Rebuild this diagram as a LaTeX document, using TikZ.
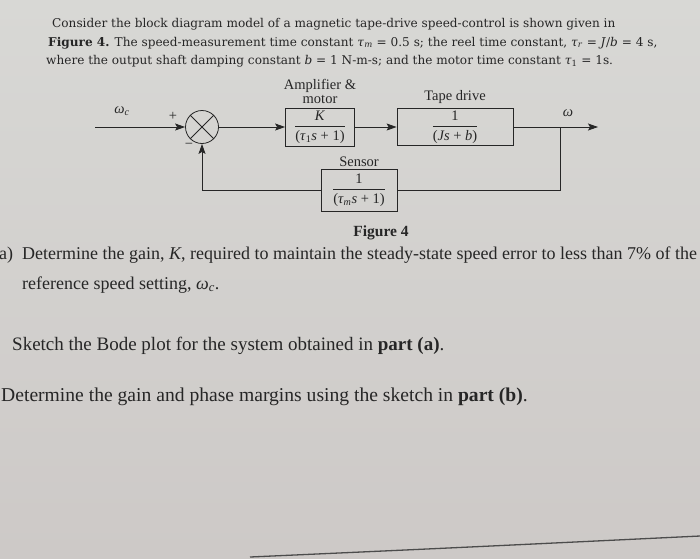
\documentclass[tikz,border=0pt]{standalone}
\usepackage{amsmath}
\usepackage{fontspec}
\setmainfont{Liberation Serif}
\newfontfamily\headfont{DejaVu Serif}
\usetikzlibrary{arrows, arrows.meta}
\usetikzlibrary{positioning}
\definecolor{paper}{RGB}{205,201,199}
\definecolor{paperlight}{RGB}{216,216,213}
\definecolor{ink}{RGB}{38,38,38}
\newcommand{\vsub}[2]{\textit{#1}\textsubscript{\textit{#2}}}
\newcommand{\blockfrac}[2]{$\dfrac{\mbox{#1}}{\mbox{#2}}$}

\begin{document}
\begin{tikzpicture}[x=1pt, y=-1pt, >={Stealth[length=10pt, width=7pt, inset=2pt]}, color=ink,
	block/.style={draw, thick, inner sep=1pt, font=\fontsize{14.5}{17}\selectfont},
	sumnode/.style={draw, thick, circle, minimum size=33pt, inner sep=0pt},
	lbl/.style={font=\fontsize{14.5}{13.5}\selectfont, inner sep=1pt},
	headline/.style={anchor=base west, inner sep=0pt, font=\headfont\fontsize{12.1}{14}\selectfont},
	question/.style={anchor=base west, inner sep=0pt}]
				% Draw the page
				\shade[top color=paperlight, bottom color=paper] (0,0) rectangle (700,558);
				\useasboundingbox (0,0) rectangle (700,558);
				\draw[gray!60!black, line width=1.3pt] (250,557) .. controls (450,548) .. (700,536);
				
				% Draw the problem statement
				\node[headline] (intro1) at (52,27) {Consider the block diagram model of a magnetic tape-drive speed-control is shown given in};
				\node[headline] (intro2) at (48,46) {\textbf{Figure 4.} The speed-measurement time constant \vsub{τ}{m} = 0.5 s; the reel time constant, \vsub{τ}{r} = \textit{J}/\textit{b} = 4 s,};
				\node[headline] (intro3) at (46,64) {where the output shaft damping constant \textit{b} = 1 N-m-s; and the motor time constant \textit{τ}\textsubscript{1} = 1s.};
				
				% Draw the blocks
				\node[sumnode] (sum) at (202,127) {};
				\draw[thick] (sum.north east) -- (sum.south west) (sum.north west) -- (sum.south east);
				\node[block, minimum width=69pt, minimum height=38pt] (amp) at (320,127) {\blockfrac{\textit{K}}{(\textit{τ}\textsubscript{1}\textit{s} + 1)}};
				\node[block, minimum width=116pt, minimum height=37pt] (tape) at (455,127) {\blockfrac{1}{(\textit{Js} + \textit{b})}};
				\node[block, minimum width=76pt, minimum height=42pt] (sensor) at (359,190) {\blockfrac{1}{(\vsub{τ}{m}\textit{s} + 1)}};
				
				% Draw the labels
				\node[lbl, align=center, above=3pt of amp] (amplabel) {Amplifier \&\\motor};
				\node[lbl, above=3pt of tape] (tapelabel) {Tape drive};
				\node[lbl, above=1pt of sensor] (sensorlabel) {Sensor};
				\node[lbl] (wc) at (122,111) {\vsub{ω}{c}};
				\node[lbl] (plus) at (173,116) {+};
				\node[lbl] (minus) at (189,146) {\textminus};
				\node[lbl] (w) at (568,113) {\textit{ω}};
				
				% Draw the signal lines
				\coordinate (input) at (95,127);
				\coordinate (output) at (598,127);
				\coordinate (branch) at (560,127);
				\draw[->, thick] (input) -- (sum.west);
				\draw[->, thick] (sum.east) -- (amp.west);
				\draw[->, thick] (amp.east) -- (tape.west);
				\draw[->, thick] (tape.east) -- (output);
				\draw[thick] (branch) |- (sensor.east);
				\draw[->, thick] (sensor.west) -| (sum.south);
				
				% Draw the questions
				\node[font=\bfseries\fontsize{15.5}{17}\selectfont] (figlabel) at (381,233) {Figure 4};
				\node[question, font=\fontsize{18}{21}\selectfont] (qa) at (-1,259) {a)\enspace Determine the gain, \textit{K}, required to maintain the steady-state speed error to less than 7\% of the};
				\node[question, font=\fontsize{18}{21}\selectfont] (qa2) at (22,289) {reference speed setting, \vsub{ω}{c}.};
				\node[question, font=\fontsize{19}{22}\selectfont] (qb) at (12,350) {Sketch the Bode plot for the system obtained in \textbf{part (a)}.};
				\node[question, font=\fontsize{19.6}{22}\selectfont] (qc) at (1,401) {Determine the gain and phase margins using the sketch in \textbf{part (b)}.};
			\end{tikzpicture}
\end{document}
